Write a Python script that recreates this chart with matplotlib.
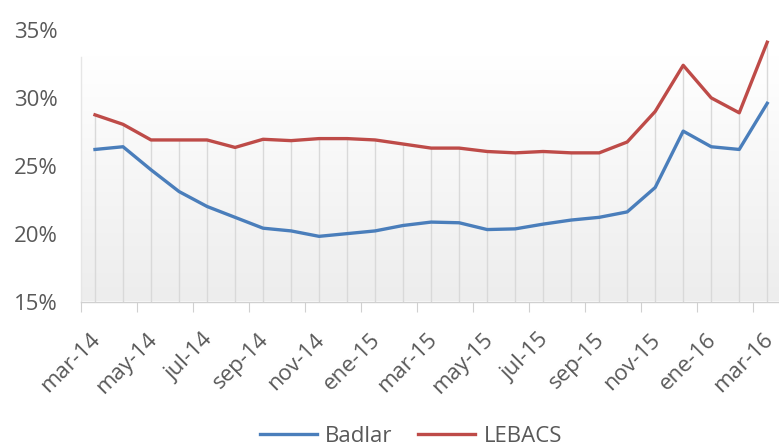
import matplotlib
matplotlib.use("Agg")
import matplotlib.pyplot as plt
import numpy as np
from matplotlib.colors import LinearSegmentedColormap

months = ["mar-14", "abr-14", "may-14", "jun-14", "jul-14", "ago-14", "sep-14", "oct-14",
          "nov-14", "dic-14", "ene-15", "feb-15", "mar-15", "abr-15", "may-15", "jun-15",
          "jul-15", "ago-15", "sep-15", "oct-15", "nov-15", "dic-15", "ene-16", "feb-16",
          "mar-16"]
badlar = [26.2, 26.4, 24.7, 23.1, 22.0, 21.2, 20.4, 20.2, 19.8, 20.0, 20.2, 20.6, 20.85,
          20.8, 20.3, 20.35, 20.7, 21.0, 21.2, 21.6, 23.4, 27.55, 26.4, 26.2, 29.6]
lebacs = [28.75, 28.05, 26.9, 26.9, 26.9, 26.35, 26.95, 26.85, 27.0, 27.0, 26.9, 26.6,
          26.3, 26.3, 26.05, 25.95, 26.05, 25.95, 25.95, 26.75, 29.0, 32.4, 30.0, 28.9, 34.1]
ytick_vals = [15, 20, 25, 30, 35]
ytick_labels = ["15%", "20%", "25%", "30%", "35%"]

W, H = 779, 446
plt.rcParams["font.family"] = ["Open Sans", "DejaVu Sans"]
fig = plt.figure(figsize=(W / 100, H / 100), dpi=100)
fig.patch.set_facecolor("white")

left_px, right_px, top_px, bot_px = 81, 779, 30, 301.5
ax = fig.add_axes([left_px / W, (H - bot_px) / H, (right_px - left_px) / W, (bot_px - top_px) / H])
ax.set_facecolor("none")

x = np.arange(len(months))
ax.set_xlim(-0.5, 24.42)
ax.set_ylim(15, 35)

# gradient plot area
grad_top = 35 - (57 - 30) / ((bot_px - top_px) / 20)
cmap = LinearSegmentedColormap.from_list("g", ["#ededed", "#ffffff"])
grad = np.linspace(0, 1, 256).reshape(-1, 1)
ax.imshow(grad, extent=[-0.5, 24.42, 15, grad_top], origin="lower", cmap=cmap,
          aspect="auto", zorder=0, interpolation="bilinear")
ax.plot([-0.5, -0.5], [15, grad_top], color="#e6e6e6", lw=1, zorder=1, clip_on=False)

# drop lines
tops = np.maximum(badlar, lebacs)
ax.vlines(x, 15, tops, colors="#d9d9d9", lw=1, zorder=1)

blue = "#4a7ebb"
red = "#be4b48"
l1, = ax.plot(x, badlar, color=blue, lw=2.4, zorder=3, solid_joinstyle="round", label="Badlar")
l2, = ax.plot(x, lebacs, color=red, lw=2.4, zorder=3, solid_joinstyle="round", label="LEBACS")

for s in ["top", "right", "left"]:
    ax.spines[s].set_visible(False)
ax.spines["bottom"].set_color("#d0d0d0")
ax.spines["bottom"].set_linewidth(1)

ax.set_yticks(ytick_vals)
ax.set_yticklabels(ytick_labels)
ax.tick_params(axis="y", length=0, pad=17, labelsize=16, labelcolor="#595959")

# major ticks every 2 months (between points), labels at months
ax.set_xticks(np.arange(-0.5, 24.6, 2))
ax.set_xticklabels([])
ax.tick_params(axis="x", which="major", length=7, color="#d0d0d0", direction="out")
ax.set_xticks(x[::2] - 0.18, minor=True)
ax.set_xticklabels(months[::2], minor=True, rotation=45, ha="right", va="top",
                   rotation_mode="anchor")
ax.tick_params(axis="x", which="minor", length=0, pad=20, labelsize=16, labelcolor="#595959")

leg = fig.legend(handles=[l1, l2], loc="center", bbox_to_anchor=(411 / W, (H - 436) / H),
                 ncol=2, frameon=False, fontsize=16, handlelength=2.57, columnspacing=1.15,
                 handletextpad=0.36, labelcolor="#595959", borderpad=0)

fig.savefig("out.png", dpi=100, facecolor="white")
